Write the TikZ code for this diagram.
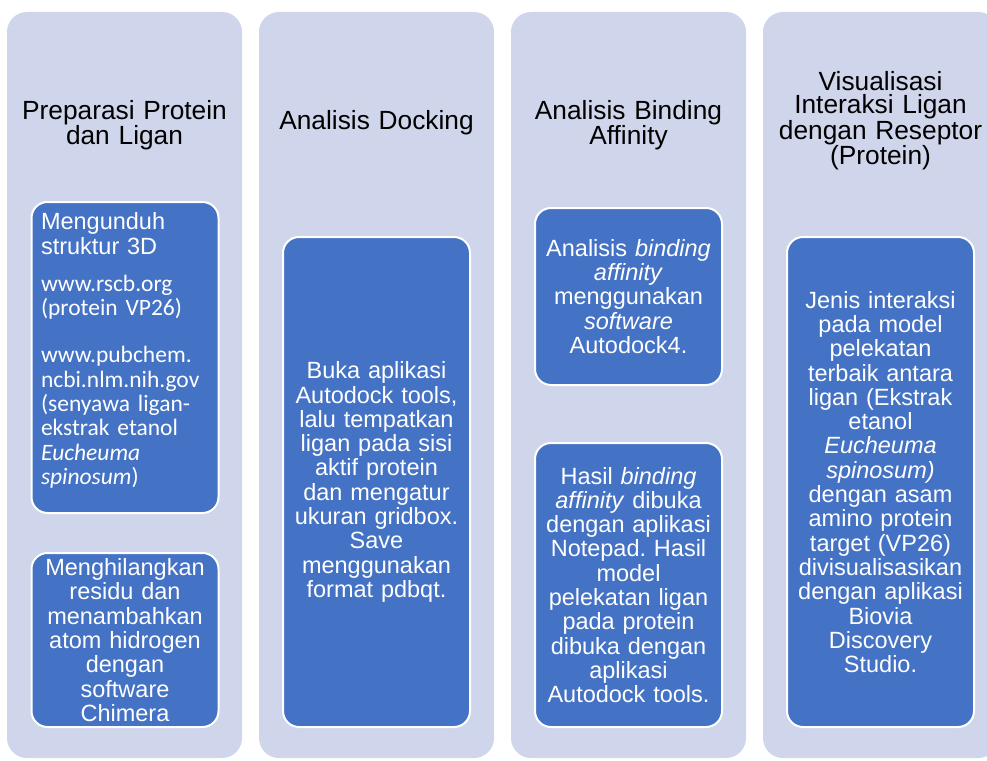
\documentclass[tikz,border=0pt]{standalone}
\usepackage{fontspec}
\setmainfont{Liberation Sans}
\newfontfamily\calibfont{Carlito}
\usepackage{xcolor}
\definecolor{laneblue}{HTML}{CFD5EA}
\definecolor{cardblue}{HTML}{4472C4}
\frenchspacing

\begin{document}
\setlength{\lineskiplimit}{-20pt}
\begin{tikzpicture}[x=1pt, y=-1pt,
    lane/.style={fill=laneblue, rounded corners=20pt,
                 minimum width=235pt, minimum height=746pt, inner sep=0pt},
    head/.style={text width=228pt, align=center,
                 font=\fontsize{26.3}{23.2}\selectfont},
    card/.style={draw=white, line width=2pt, fill=cardblue, text=white,
                 rounded corners=16pt, minimum width=187pt, minimum height=#1,
                 text width=183pt, align=center, inner sep=0pt,
                 font=\fontsize{23.5}{24.3}\selectfont},
    card/.default=100pt]

  \useasboundingbox (0,0) rectangle (987,760);

  %% Lanes
  \node[lane] (lane1) at (124.5,385) {};
  \node[lane] (lane2) at (376.5,385) {};
  \node[lane] (lane3) at (628.5,385) {};
  \node[lane] (lane4) at (880.5,385) {};

  %% Lane titles
  \node[head] (head1) at (124.5,125) {Preparasi Protein\\dan Ligan};
  \node[head] (head2) at (376.5,123) {Analisis Docking};
  \node[head] (head3) at (628.5,125) {Analisis Binding\\Affinity};
  \node[head] (head4) at (880.5,121)
    {Visualisasi\\Interaksi Ligan\\dengan Reseptor\\(Protein)};

  %% Preparasi
  \node[card=311pt, text width=168pt, align=left] (unduh) at (125,357.5)
    {Mengunduh\\struktur 3D\\[13pt]
     \calibfont www.rscb.org\\(protein VP26)\\[23pt]
     www.pubchem.\\ncbi.nlm.nih.gov\\(senyawa ligan-\\ekstrak etanol\\
     \textit{Eucheuma}\\\textit{spinosum})\par\vspace{14pt}};
  \node[card=174pt] (residu) at (125,640)
    {Menghilangkan\\residu dan\\menambahkan\\atom hidrogen\\dengan\\software\\Chimera};

  %% Docking
  \node[card=490pt] (dock) at (376.5,482)
    {Buka aplikasi\\Autodock tools,\\lalu tempatkan\\ligan pada sisi\\aktif protein\\
     dan mengatur\\ukuran gridbox.\\Save\\menggunakan\\format pdbqt.};

  %% Binding affinity
  \node[card=177pt] (afin) at (628.5,296.5)
    {Analisis \textit{binding}\\\textit{affinity}\\menggunakan\\\textit{software}\\Autodock4.};
  \node[card=284pt] (hasil) at (628.5,585)
    {Hasil \textit{binding}\\\textit{affinity} dibuka\\dengan aplikasi\\Notepad. Hasil\\model\\
     pelekatan ligan\\pada protein\\dibuka dengan\\aplikasi\\Autodock tools.};

  %% Visualisasi
  \node[card=490pt] (visual) at (880.5,482)
    {Jenis interaksi\\pada model\\pelekatan\\terbaik antara\\ligan (Ekstrak\\etanol\\
     \textit{Eucheuma}\\\textit{spinosum)}\\dengan asam\\amino protein\\target (VP26)\\
     divisualisasikan\\dengan aplikasi\\Biovia\\Discovery\\Studio.};
\end{tikzpicture}
\end{document}
